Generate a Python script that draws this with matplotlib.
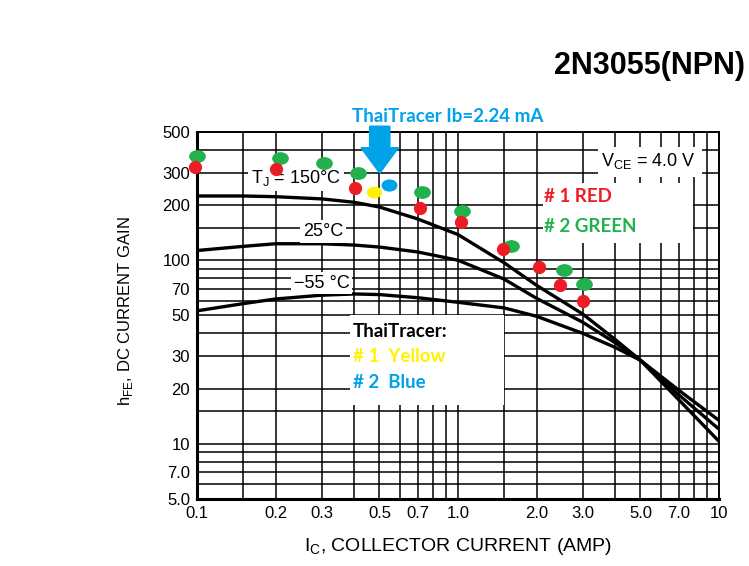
import matplotlib.pyplot as plt
from matplotlib.patches import Rectangle, FancyArrow
from matplotlib.path import Path
from matplotlib.transforms import Affine2D

# datasheet curves, hFE vs Ic at Vce = 4 V
ic_curve = [0.1, 0.15, 0.2, 0.3, 0.4, 0.5, 0.7, 1.0, 1.5, 2.0, 3.0, 4.0, 5.0, 7.0, 10.0]
hfe_150 = [224, 224, 222, 216, 207, 195, 168, 138, 97, 73, 51, 37, 28.5, 17.4, 10.3]
hfe_25 = [113, 119, 123, 123, 121, 118, 111, 100, 79, 62, 46, 35.5, 28.5, 18.5, 12.0]
hfe_m55 = [53, 58, 61.5, 64.5, 65.5, 65, 62.5, 59, 55, 49.5, 40, 33.5, 28.5, 19.6, 13.4]

# measured transistors
red_ic = [0.098, 0.2, 0.404, 0.715, 1.03, 1.49, 2.04, 2.46, 3.01]
red_hfe = [323, 314, 247, 193, 161, 115, 92, 73, 60]
green_ic = [0.1, 0.208, 0.307, 0.415, 0.726, 1.04, 1.59, 2.55, 3.05]
green_hfe = [370, 362, 338, 300, 235, 186, 119, 89, 74]

# ThaiTracer readings
yellow_ic = [0.477]
yellow_hfe = [235]
blue_ic = [0.544]
blue_hfe = [256]

x_major = [0.1, 0.2, 0.3, 0.5, 0.7, 1, 2, 3, 5, 7, 10]
x_labels = ['0.1', '0.2', '0.3', '0.5', '0.7', '1.0', '2.0', '3.0', '5.0', '7.0', '10']
x_minor = [0.15, 0.4, 0.6, 0.8, 0.9, 1.5, 4, 6, 8, 9]
y_major = [5, 7, 10, 20, 30, 50, 70, 100, 200, 300, 500]
y_labels = ['5.0', '7.0', '10', '20', '30', '50', '70', '100', '200', '300', '500']
y_minor = [6, 8, 9, 15, 40, 60, 80, 90, 150, 400]

RED = '#ED1C24'
GREEN = '#22B14C'
YELLOW = '#FFF200'
BLUE = '#00A2E8'

plt.rcParams['font.family'] = ['Liberation Sans', 'DejaVu Sans']

fig = plt.figure(figsize=(7.49, 5.66), dpi=100)
ax = fig.add_axes([0.263, 0.1184, 0.697, 0.6484])
ax.set_xscale('log')
ax.set_yscale('log')
ax.set_xlim(0.1, 10)
ax.set_ylim(5, 500)

ax.set_xticks(x_major)
ax.set_xticklabels(x_labels)
ax.set_xticks(x_minor, minor=True)
ax.set_xticklabels([], minor=True)
ax.set_yticks(y_major)
ax.set_yticklabels(y_labels)
ax.set_yticks(y_minor, minor=True)
ax.set_yticklabels([], minor=True)
ax.tick_params(which='both', length=0, labelsize=12, pad=5)
ax.grid(which='both', color='black', linewidth=1.1, zorder=1)
ax.set_axisbelow(True)
for s in ['left', 'bottom']:
    ax.spines[s].set_linewidth(2.2)
for s in ['top', 'right']:
    ax.spines[s].set_linewidth(1.4)

# white boxes covering the grid
ax.add_patch(Rectangle((0.293, 0.256), 0.295, 0.245, transform=ax.transAxes,
                       facecolor='white', edgecolor='none', zorder=2))
ax.add_patch(Rectangle((0.663, 0.698), 0.287, 0.163, transform=ax.transAxes,
                       facecolor='white', edgecolor='none', zorder=2))
ax.add_patch(Rectangle((0.768, 0.878), 0.199, 0.082, transform=ax.transAxes,
                       facecolor='white', edgecolor='none', zorder=2))

ax.plot(ic_curve, hfe_150, color='black', lw=2.4, zorder=3)
ax.plot(ic_curve, hfe_25, color='black', lw=2.4, zorder=3)
ax.plot(ic_curve, hfe_m55, color='black', lw=2.4, zorder=3)

lab = dict(fontsize=13, ha='center', va='center', transform=ax.transAxes, zorder=4,
           bbox=dict(facecolor='white', edgecolor='none', pad=2))
ax.text(0.190, 0.875, r'T$_\mathregular{J}$ = 150°C', **lab)
ax.text(0.242, 0.729, '25°C', **lab)
ax.text(0.239, 0.588, '\u221255 °C', **lab)
ax.text(0.865, 0.922, r'V$_\mathregular{CE}$ = 4.0 V', fontsize=13, ha='center', va='center',
        transform=ax.transAxes, zorder=4)

note = dict(fontsize=13.5, fontweight='bold', family=['Lato', 'DejaVu Sans'],
            ha='left', va='center', transform=ax.transAxes, zorder=4)
ax.text(0.665, 0.824, '# 1 RED', color=RED, **note)
ax.text(0.665, 0.742, '# 2 GREEN', color=GREEN, **note)
ax.text(0.299, 0.456, 'ThaiTracer:', color='black', **note)
ax.text(0.299, 0.388, '# 1  Yellow', color=YELLOW, **note)
ax.text(0.299, 0.317, '# 2  Blue', color=BLUE, **note)

# slightly flattened dots like the hand-drawn ones
ellipse = Path.unit_circle().transformed(Affine2D().scale(1.35, 1.0))
ax.plot(green_ic, green_hfe, ls='none', marker=ellipse, ms=11, color=GREEN, zorder=5, clip_on=False)
ax.plot(red_ic, red_hfe, ls='none', marker='o', ms=8.5, color=RED, zorder=6, clip_on=False)
ax.plot(yellow_ic, yellow_hfe, ls='none', marker=ellipse, ms=10, color=YELLOW, zorder=6)
ax.plot(blue_ic, blue_hfe, ls='none', marker=ellipse, ms=10.5, color=BLUE, zorder=6)

# arrow and header
fig.patches.append(FancyArrow(0.507, 0.777, 0, -0.083, width=0.027, head_width=0.05,
                              head_length=0.045, length_includes_head=True,
                              color=BLUE, transform=fig.transFigure, figure=fig))
fig.text(0.5975, 0.795, 'ThaiTracer Ib=2.24 mA', color=BLUE, fontsize=13.5, fontweight='bold',
         family=['Lato', 'DejaVu Sans'], ha='center', va='center')
fig.text(0.995, 0.883, '2N3055(NPN)', fontsize=22, fontweight='bold', ha='right', va='center')

fig.text(0.167, 0.45, r'h$_\mathregular{FE}$, DC CURRENT GAIN', rotation=90,
         fontsize=12, ha='center', va='center')
fig.text(0.611, 0.034, r'I$_\mathregular{C}$, COLLECTOR CURRENT (AMP)', fontsize=14,
         ha='center', va='center')

fig.savefig('out.png', dpi=100)
